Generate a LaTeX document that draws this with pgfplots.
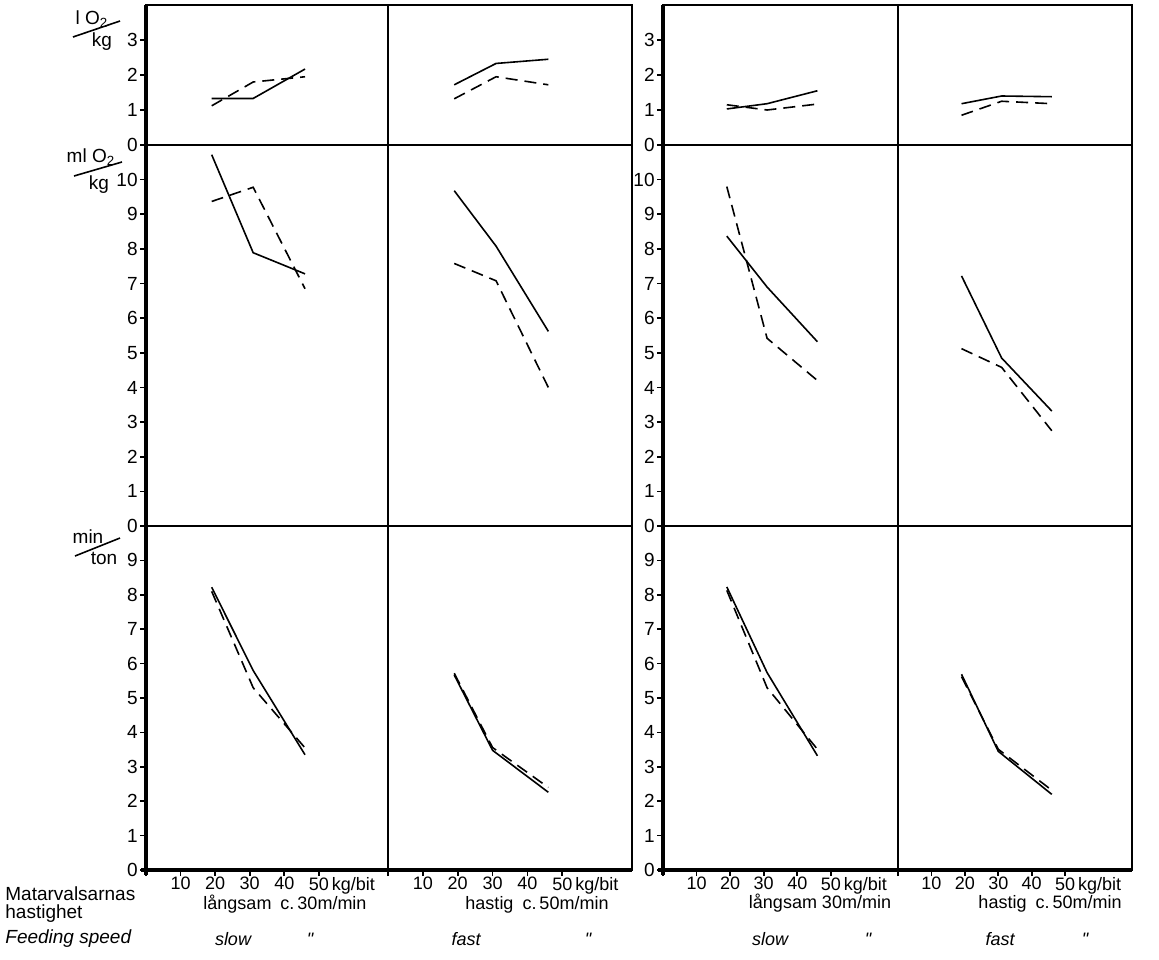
\documentclass[border=0pt]{standalone}
\usepackage{fontspec}
\setmainfont{Liberation Sans}
\usepackage{pgfplots}
\pgfplotsset{compat=1.18}

% 1 px of the scan = 0.5pt
\pgfplotsset{
  panel/.style={
    scale only axis, anchor=south west,
    xmin=0, xmax=70,
    xtick=\empty, ytick=\empty,
    xtick pos=bottom, ytick pos=left,
    axis line style={line width=0.7pt},
    tick style={black, line width=0.8pt},
    tick align=outside, major tick length=3pt,
    tick label style={font=\fontsize{9.5}{10}\selectfont, inner sep=1pt},
    xticklabel style={font=\fontsize{9}{10}\selectfont, inner sep=0.5pt},
    /pgf/number format/assume math mode=true,
    clip=false,
  },
  toprow/.style={panel, height=70pt, ymin=0, ymax=4},
  midrow/.style={panel, height=190.5pt, ymin=0, ymax=11},
  botrow/.style={panel, height=172pt, ymin=0, ymax=10,
    xtick={0,10,20,30,40,50}, xticklabels={,10,20,30,40,50\rlap{\,kg/bit}}},
  sol/.style={black, line width=0.8pt, no markers},
  das/.style={black, line width=0.8pt, no markers, dash pattern=on 6pt off 3.5pt},
}

\begin{document}
\begin{tikzpicture}
\path[use as bounding box] (0,0) rectangle (579.5pt,-479.5pt);

% ---------- top row: l O2 / kg ----------
\begin{axis}[toprow, at={(146*0.5pt,-145*0.5pt)}, width=121pt, ytick={0,1,2,3}]
\addplot[sol] coordinates {(19,1.33) (31,1.33) (46,2.17)};
\addplot[das] coordinates {(19,1.12) (31,1.80) (46,1.95)};
\end{axis}
\begin{axis}[toprow, at={(388*0.5pt,-145*0.5pt)}, width=122pt]
\addplot[sol] coordinates {(19,1.72) (31,2.33) (46,2.45)};
\addplot[das] coordinates {(19,1.32) (31,1.95) (46,1.72)};
\end{axis}
\begin{axis}[toprow, at={(663*0.5pt,-145*0.5pt)}, width=117.5pt, ytick={0,1,2,3}]
\addplot[sol] coordinates {(19,1.03) (31,1.18) (46,1.55)};
\addplot[das] coordinates {(19,1.15) (31,1.00) (46,1.17)};
\end{axis}
\begin{axis}[toprow, at={(898*0.5pt,-145*0.5pt)}, width=117pt]
\addplot[sol] coordinates {(19,1.18) (31,1.40) (46,1.38)};
\addplot[das] coordinates {(19,0.85) (31,1.25) (46,1.18)};
\end{axis}

% ---------- middle row: ml O2 / kg ----------
\begin{axis}[midrow, at={(146*0.5pt,-526*0.5pt)}, width=121pt, ytick={0,...,10}]
\addplot[sol] coordinates {(19,10.72) (31,7.89) (46,7.28)};
\addplot[das] coordinates {(19,9.37) (31,9.78) (46,6.85)};
\end{axis}
\begin{axis}[midrow, at={(388*0.5pt,-526*0.5pt)}, width=122pt]
\addplot[sol] coordinates {(19,9.68) (31,8.08) (46,5.62)};
\addplot[das] coordinates {(19,7.58) (31,7.08) (46,4.00)};
\end{axis}
\begin{axis}[midrow, at={(663*0.5pt,-526*0.5pt)}, width=117.5pt, ytick={0,...,10}]
\addplot[sol] coordinates {(19,8.37) (31,6.90) (46,5.32)};
\addplot[das] coordinates {(19,9.80) (31,5.42) (46,4.20)};
\end{axis}
\begin{axis}[midrow, at={(898*0.5pt,-526*0.5pt)}, width=117pt]
\addplot[sol] coordinates {(19,7.22) (31,4.85) (46,3.32)};
\addplot[das] coordinates {(19,5.12) (31,4.58) (46,2.75)};
\end{axis}

% ---------- bottom row: min / ton ----------
\begin{axis}[botrow, at={(146*0.5pt,-870*0.5pt)}, width=121pt, ytick={0,...,9}]
\addplot[sol] coordinates {(19,8.22) (31,5.80) (46,3.35)};
\addplot[das] coordinates {(19,8.10) (31,5.30) (46,3.55)};
\end{axis}
\begin{axis}[botrow, at={(388*0.5pt,-870*0.5pt)}, width=122pt]
\addplot[sol] coordinates {(19,5.67) (30,3.48) (46,2.26)};
\addplot[das] coordinates {(19,5.72) (30,3.56) (46,2.40)};
\end{axis}
\begin{axis}[botrow, at={(663*0.5pt,-870*0.5pt)}, width=117.5pt, ytick={0,...,9}]
\addplot[sol] coordinates {(19,8.23) (31,5.74) (46,3.32)};
\addplot[das] coordinates {(19,8.13) (31,5.30) (46,3.51)};
\end{axis}
\begin{axis}[botrow, at={(898*0.5pt,-870*0.5pt)}, width=117pt]
\addplot[sol] coordinates {(19,5.69) (30,3.45) (46,2.20)};
\addplot[das] coordinates {(19,5.62) (30,3.51) (46,2.32)};
\end{axis}

% ---------- frame, units and captions ----------
\begin{scope}[x=0.5pt, y=-0.5pt, font=\fontsize{9}{10}\selectfont]
\draw[line width=1.6pt] (146,5) -- (146,875);
\draw[line width=1.6pt] (141,870) -- (632,870);
\draw[line width=1.6pt] (663,5) -- (663,875);
\draw[line width=1.6pt] (658,870) -- (1132,870);

\begin{scope}[font=\fontsize{9.5}{10}\selectfont]
\draw[line width=0.8pt] (73,37) -- (120,21);
\node at (92,19) {l O\textsubscript{2}};
\node at (102,42) {kg};
\draw[line width=0.8pt] (74,176) -- (122,162);
\node at (91,157) {ml O\textsubscript{2}};
\node at (99,185) {kg};
\draw[line width=0.8pt] (75,556) -- (120,538);
\node at (88,537) {min};
\node at (104,558) {ton};
\end{scope}

\node[anchor=base west, inner sep=0pt, font=\fontsize{9.5}{10}\selectfont] at (5,900) {Matarvalsarnas};
\node[anchor=base west, inner sep=0pt, font=\fontsize{9.5}{10}\selectfont] at (5,918) {hastighet};
\node[anchor=base west, inner sep=0pt, font=\fontsize{9.5}{10}\selectfont] at (5,943) {\itshape Feeding speed};

\node[anchor=base, inner sep=0pt] at (285,909) {långsam\enspace c.\,30m/min};
\node[anchor=base, inner sep=0pt] at (537,909) {hastig\enspace c.\,50m/min};
\node[anchor=base, inner sep=0pt] at (820,908) {långsam 30m/min};
\node[anchor=base, inner sep=0pt] at (1050,908) {hastig\enspace c.\,50m/min};

\node[anchor=base] at (233,945) {\itshape slow};
\node[anchor=base] at (310,945) {\itshape\textquotedbl};
\node[anchor=base] at (466,945) {\itshape fast};
\node[anchor=base] at (588,945) {\itshape\textquotedbl};
\node[anchor=base] at (770,945) {\itshape slow};
\node[anchor=base] at (868,945) {\itshape\textquotedbl};
\node[anchor=base] at (1000,945) {\itshape fast};
\node[anchor=base] at (1085,945) {\itshape\textquotedbl};
\end{scope}
\end{tikzpicture}
\end{document}
